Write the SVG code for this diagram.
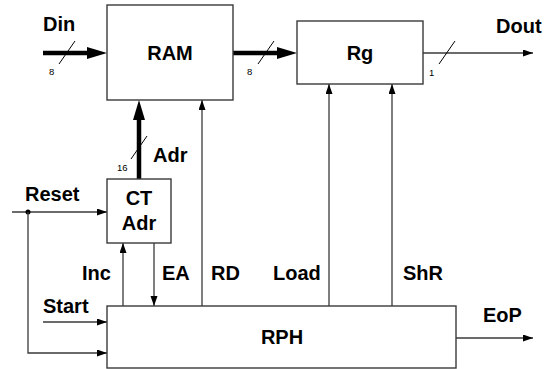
<svg xmlns="http://www.w3.org/2000/svg" width="548" height="369" viewBox="0 0 548 369">
<style>
.box{fill:#fff;stroke:#3a3a3a;stroke-width:1.4}
.thin{stroke:#3a3a3a;stroke-width:1.3;fill:none}
.thick{stroke:#000;stroke-width:4.5;fill:none}
.sl{stroke:#000;stroke-width:1;fill:none}
.lbl{font-family:"Liberation Sans",Arial,sans-serif;font-weight:bold;font-size:20px;fill:#000}
.num{font-family:"Liberation Sans",Arial,sans-serif;font-size:9.5px;fill:#000}
</style>
<defs>
<marker id="a" markerUnits="userSpaceOnUse" markerWidth="11" markerHeight="8" refX="10" refY="3.5" orient="auto"><path d="M0,0 L10,3.5 L0,7 z" fill="#000"/></marker>
<marker id="A" markerUnits="userSpaceOnUse" markerWidth="21" markerHeight="13" refX="0" refY="6" orient="auto"><path d="M0,0 L20,6 L0,12 z" fill="#000"/></marker>
</defs>
<g id="connectors">
<line class="thick" x1="43" y1="53" x2="87" y2="53" marker-end="url(#A)"/>
<line class="sl" x1="59" y1="64" x2="75" y2="41"/>
<text class="num" x="49" y="75">8</text>
<line class="thick" x1="233" y1="53" x2="277" y2="53" marker-end="url(#A)"/>
<line class="sl" x1="258" y1="64" x2="274" y2="41"/>
<text class="num" x="247" y="75">8</text>
<line class="thin" x1="423" y1="53" x2="533" y2="53" marker-end="url(#a)"/>
<line class="sl" x1="439" y1="64" x2="455" y2="41"/>
<text class="num" x="429" y="76">1</text>
<line class="thick" x1="139" y1="179" x2="139" y2="120" marker-end="url(#A)"/>
<line class="sl" x1="131" y1="159" x2="147" y2="136"/>
<text class="num" x="117" y="171">16</text>
<line class="thin" x1="202" y1="306" x2="202" y2="100" marker-end="url(#a)"/>
<line class="thin" x1="329" y1="306" x2="329" y2="84" marker-end="url(#a)"/>
<line class="thin" x1="392" y1="306" x2="392" y2="84" marker-end="url(#a)"/>
<line class="thin" x1="12" y1="212" x2="107" y2="212" marker-end="url(#a)"/>
<circle cx="28" cy="212" r="2.5" fill="#000"/>
<polyline class="thin" points="28,212 28,353 107,353" marker-end="url(#a)"/>
<line class="thin" x1="123" y1="306" x2="123" y2="243" marker-end="url(#a)"/>
<line class="thin" x1="154" y1="243" x2="154" y2="306" marker-end="url(#a)"/>
<line class="thin" x1="43" y1="322" x2="107" y2="322" marker-end="url(#a)"/>
<line class="thin" x1="456" y1="338" x2="533" y2="338" marker-end="url(#a)"/>
</g>
<g id="RAM"><rect class="box" x="107" y="5" width="126" height="95"/><text class="lbl" x="170" y="60" text-anchor="middle">RAM</text></g>
<g id="Rg"><rect class="box" x="297" y="21" width="126" height="63"/><text class="lbl" x="360" y="60" text-anchor="middle">Rg</text></g>
<g id="CTAdr"><rect class="box" x="107" y="179" width="64" height="64"/><text class="lbl" x="139" y="205" text-anchor="middle">CT</text><text class="lbl" x="139" y="230" text-anchor="middle">Adr</text></g>
<g id="RPH"><rect class="box" x="107" y="306" width="349" height="62"/><text class="lbl" x="282" y="344" text-anchor="middle">RPH</text></g>
<g id="labels">
<text class="lbl" x="43" y="31">Din</text>
<text class="lbl" x="496" y="33">Dout</text>
<text class="lbl" x="153" y="162">Adr</text>
<text class="lbl" x="25" y="201">Reset</text>
<text class="lbl" x="82" y="280">Inc</text>
<text class="lbl" x="162" y="280">EA</text>
<text class="lbl" x="211" y="280">RD</text>
<text class="lbl" x="273" y="280">Load</text>
<text class="lbl" x="403" y="280">ShR</text>
<text class="lbl" x="43" y="313">Start</text>
<text class="lbl" x="483" y="322">EoP</text>
</g>
</svg>
